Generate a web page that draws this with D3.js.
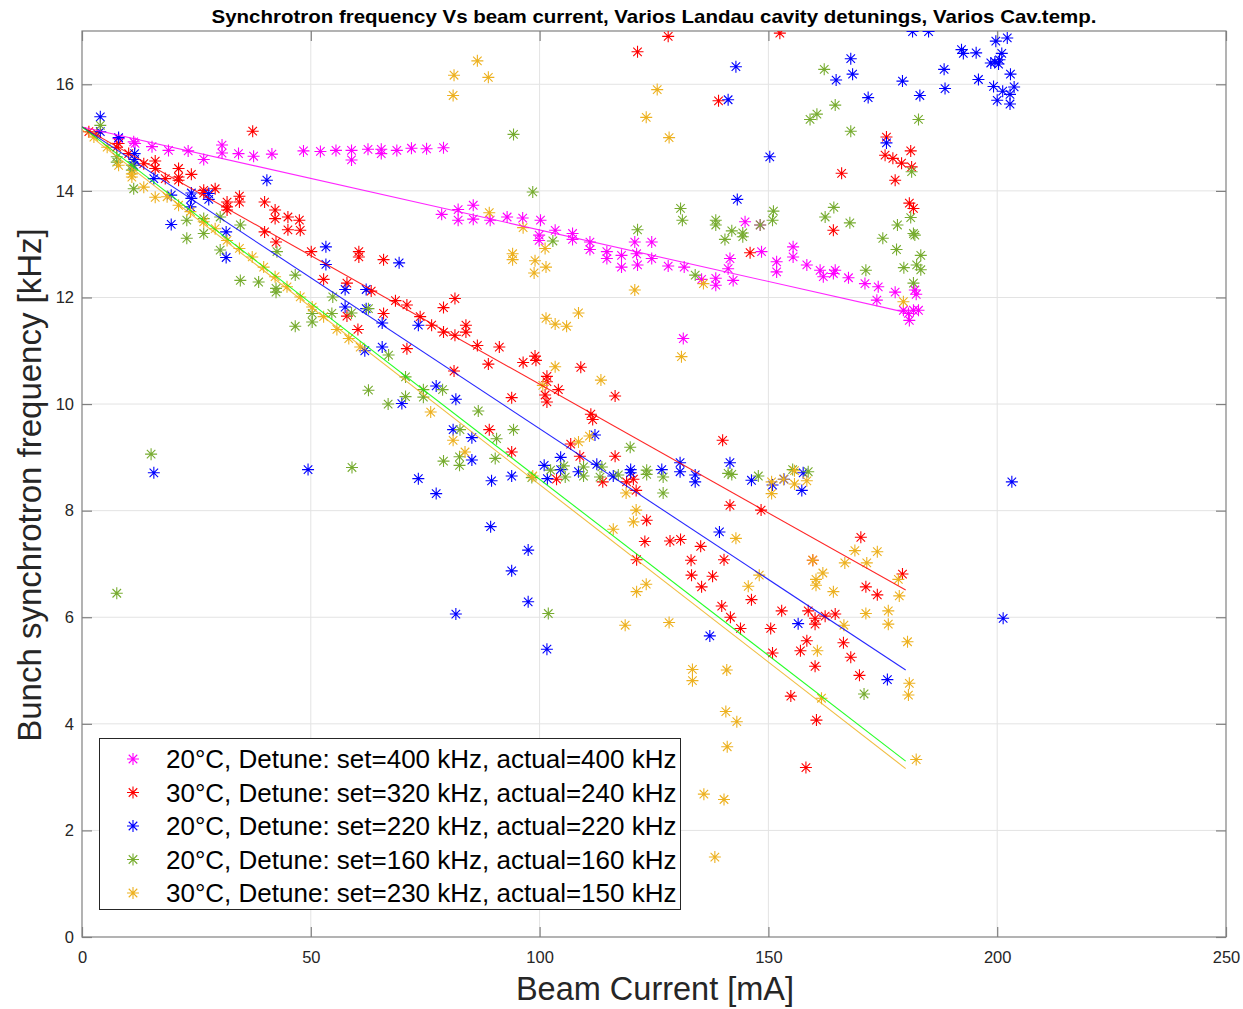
<!DOCTYPE html>
<html><head><meta charset="utf-8">
<script src="https://cdn.jsdelivr.net/npm/d3@7"></script>
<style>body{margin:0;background:#fff;} svg{display:block;font-family:"Liberation Sans",Arial,sans-serif;}</style>
</head><body><svg id="c" width="1243" height="1009"></svg>
<script>
const titleText="Synchrotron frequency Vs beam current, Varios Landau cavity detunings, Varios Cav.temp.";
const xLabel="Beam Current [mA]";
const yLabel="Bunch synchrotron frequency [kHz]";
const xTicks=[0,50,100,150,200,250];
const yTicks=[0,2,4,6,8,10,12,14,16];
const seriesNames=[
 "20°C, Detune: set=400 kHz, actual=400 kHz",
 "30°C, Detune: set=320 kHz, actual=240 kHz",
 "20°C, Detune: set=220 kHz, actual=220 kHz",
 "20°C, Detune: set=160 kHz, actual=160 kHz",
 "30°C, Detune: set=230 kHz, actual=150 kHz"];
const seriesColors=["#ff00ff","#ff0000","#0000ff","#77ac30","#edb120"];
const fitColors=["#ff00ff","#ff0000","#0000ff","#00ff00","#edb120"];
const fitX=[0,180];
const fitStartY=[15.2,15.2,15.2,15.2,15.15];
const fitEndY=[11.72,6.51,5.01,3.30,3.16];

const magenta=[[8.0,14.98],[11.3,14.92],[11.6,14.89],[15.3,14.83],[18.9,14.76],[23.2,14.75],[26.6,14.59],[30.6,14.86],[30.6,14.71],[34.2,14.70],[37.5,14.65],[41.5,14.69],[48.4,14.75],[52.1,14.74],[55.5,14.76],[58.9,14.76],[58.9,14.58],[62.5,14.78],[65.4,14.78],[65.4,14.70],[68.8,14.76],[72.0,14.80],[75.3,14.79],[79.0,14.81],
[78.6,13.56],[82.2,13.65],[82.2,13.45],[85.5,13.73],[85.5,13.47],[89.2,13.45],[92.9,13.51],[96.3,13.49],[100.2,13.45],[99.9,13.17],[99.9,13.07],[103.4,13.26],[107.2,13.20],[107.2,13.09],[111.0,13.04],[111.0,12.90],[114.7,12.86],[114.7,12.73],[117.9,12.79],[117.9,12.57],[120.8,13.04],[121.2,12.82],[121.4,12.61],[124.5,13.04],[124.5,12.73],[128.1,12.59],[131.6,12.57],[131.4,11.23],[135.4,12.34],[138.5,12.36],[138.5,12.23],[141.2,12.54],[141.6,12.73],[142.3,12.32],[144.9,13.42],[148.2,13.36],[148.5,12.86],[151.8,12.67],[151.8,12.48],[155.4,12.95],[155.4,12.76],[158.4,12.61],[161.3,12.51],[162.0,12.39],[164.2,12.45],[164.6,12.51],[167.5,12.37],[171.1,12.26],[174.0,12.20],[173.7,11.95],[177.7,12.10],[182.0,12.14],[182.3,12.06],[179.5,11.76],[180.6,11.70],[181.7,11.76],[182.8,11.76],[180.8,11.57]];

const red=[[1.5,15.11],[3.3,15.08],[8.0,14.89],[7.6,14.82],[10.2,14.70],[13.5,14.51],[16.0,14.56],[16.0,14.42],[21.1,14.42],[21.1,14.26],[21.1,14.20],[23.9,14.31],[18.2,14.23],[26.6,14.01],[26.6,13.96],[29.1,14.04],[31.7,13.79],[31.7,13.70],[31.7,13.64],[34.4,13.90],[34.4,13.79],[37.3,15.12],[39.9,13.79],[42.2,13.64],[42.2,13.48],[45.0,13.51],[45.0,13.27],[47.5,13.45],[47.7,13.26],[39.9,13.23],[42.4,13.04],[50.1,12.86],[60.5,12.86],[60.5,12.76],[65.9,12.71],[52.8,12.34],[57.9,12.27],[63.2,12.12],[68.5,11.94],[71.0,11.86],[65.9,11.70],[57.9,11.65],[60.3,11.40],[71.0,11.04],
[73.9,11.64],[76.4,11.48],[79.0,11.81],[81.5,11.98],[79.0,11.35],[81.5,11.29],[83.9,11.48],[83.9,11.35],[86.4,11.10],[91.2,11.07],[121.4,16.61],[128.1,16.90],[139.1,15.69],
[81.3,10.62],[88.8,10.75],[96.4,10.78],[99.0,10.90],[99.2,10.82],[101.6,10.52],[101.6,10.42],[101.2,10.17],[101.6,10.04],[104.1,10.27],[109.0,10.69],[116.5,10.15],[93.9,10.12],[111.2,9.81],[111.6,9.71],[89.0,9.52],[93.9,9.10],[106.8,9.25],[108.8,9.02],[116.5,9.02],[103.7,8.59],[113.8,8.54],[119.0,8.54],[120.5,8.59],[121.1,8.38],[123.4,7.82],[123.0,7.42],[128.5,7.43],[130.8,7.46],[135.2,7.33],[140.0,9.32],[141.6,8.10],[121.2,7.08],[133.1,7.07],[140.3,7.08],[133.2,6.79],[137.8,6.77],[135.4,6.57],[139.8,6.21],
[148.4,8.01],[146.3,6.33],[141.7,6.00],[143.9,5.79],[150.5,5.79],[152.9,6.12],[158.7,6.12],[160.2,5.98],[160.2,5.87],[162.4,6.02],[164.6,6.06],[159.7,7.07],[170.2,7.50],[179.3,6.81],[171.3,6.57],[173.8,6.42],
[150.9,5.33],[158.4,5.56],[157.0,5.37],[166.4,5.52],[168.0,5.25],[160.2,5.08],[169.9,4.91],[154.9,4.52],[160.5,4.07],[158.2,3.18],
[152.5,16.96],[166.0,14.33],[164.2,13.26],[175.8,15.01],[175.5,14.67],[177.2,14.61],[179.1,14.52],[181.1,14.75],[181.3,14.45],[177.7,14.20],[180.8,13.77],[181.7,13.67],[146.0,12.84]];

const blue=[[4.0,15.39],[4.0,15.11],[8.0,15.00],[11.5,14.70],[11.5,14.59],[11.3,14.48],[15.7,14.23],[19.5,13.92],[23.9,13.96],[23.9,13.86],[27.7,13.95],[27.7,13.84],[23.7,13.70],[40.4,14.20],[19.5,13.37],[31.5,13.23],[31.5,12.75],[53.3,12.95],[53.3,12.62],[57.5,12.15],[62.1,12.15],[57.5,11.82],[62.1,11.79],[65.6,11.52],[65.6,11.07],[61.8,11.00],[69.3,12.65],[73.5,11.48],
[69.9,10.01],[77.4,10.34],[81.7,10.09],[81.1,9.52],[85.2,9.37],[85.2,8.95],[73.5,8.60],[77.4,8.32],[89.5,8.56],[93.9,8.65],[101.0,8.85],[101.7,8.60],[104.6,9.00],[104.6,8.77],[108.5,8.73],[112.1,9.42],[112.5,8.87],[116.1,8.65],[119.9,8.77],[119.9,8.71],[126.7,8.77],[130.7,8.90],[130.7,8.73],[134.0,8.67],[134.0,8.54],[139.3,7.60],[141.6,8.90],[89.3,7.70],[97.5,7.26],[93.9,6.87],[97.5,6.29],[81.7,6.06],
[146.3,8.57],[150.9,8.48],[153.4,8.59],[157.6,8.71],[157.3,8.38],[203.2,8.54],[156.5,5.88],[201.3,5.98],[101.6,5.40],[137.2,5.65],[176.0,4.83],[15.7,8.71],[49.4,8.77],
[142.9,16.33],[141.2,15.71],[150.3,14.64],[143.2,13.84],[168.0,16.48],[168.4,16.19],[164.8,16.08],[171.8,15.75],[179.3,16.06],[183.1,15.79],[181.5,16.99],[185.0,16.99],[188.4,16.28],[188.6,15.92],[192.2,16.65],[192.6,16.58],[195.4,16.59],[195.9,16.09],[199.2,15.96],[198.6,16.40],[199.5,16.42],[200.3,16.38],[200.5,16.46],[201.0,16.58],[199.7,16.81],[202.2,16.87],[202.9,16.19],[203.7,15.95],[202.8,15.81],[202.8,15.63],[200.0,15.70],[201.2,15.87],[175.8,14.90]];

const green=[[4.0,15.23],[7.6,14.64],[7.6,14.54],[10.9,14.48],[10.9,14.39],[11.3,14.04],[22.9,13.45],[22.9,13.11],[26.6,13.48],[26.6,13.20],[30.2,13.51],[30.2,12.89],[34.6,13.36],[34.6,12.32],[38.6,12.29],[42.6,12.86],[42.4,12.17],[42.4,12.10],[46.6,12.42],[46.6,11.46],[50.3,11.70],[50.3,11.54],[54.6,11.70],[54.8,12.01],[58.9,11.71],[62.6,11.79],[67.0,10.92],[70.7,10.51],[62.6,10.26],[70.7,10.14],
[15.1,9.06],[59.0,8.81],[7.6,6.45],[66.9,10.0],
[74.6,10.27],[74.6,10.13],[78.8,10.27],[86.6,9.87],[82.6,9.52],[90.6,9.35],[94.3,9.52],[79.0,8.93],[82.5,9.01],[82.5,8.85],[90.3,8.98],[98.3,8.62],[101.9,6.07],[102.4,8.76],[105.3,8.84],[105.6,8.63],[109.6,8.82],[109.6,8.65],[113.2,8.63],[113.6,8.82],[117.2,8.67],[119.8,9.19],[123.4,8.76],[123.4,8.68],[127.0,8.63],[127.0,8.33],[141.2,8.70],
[142.0,8.68],[147.8,8.65],[155.3,8.77],[158.7,8.73],[170.9,4.56],
[94.3,15.06],[98.5,13.98],[102.9,13.06],[121.4,13.27],[130.8,13.67],[131.2,13.45],[134.0,12.42],[138.5,13.45],[138.5,13.36],[140.5,13.09],
[142.0,13.25],[144.4,13.21],[144.4,13.14],[148.2,13.36],[151.1,13.62],[150.9,13.45],[162.2,16.28],[164.6,15.61],[159.1,15.34],[160.6,15.44],[168.0,15.12],[182.8,15.34],[164.3,13.69],[162.4,13.51],[167.8,13.40],[171.3,12.51],[175.0,13.11],[178.2,13.36],[178.0,12.90],[179.6,12.56],[181.1,13.50],[181.7,13.20],[182.0,13.17],[183.3,12.79],[183.3,12.52],[182.4,12.61],[181.7,12.27],[181.3,14.36]];

const orange=[[2.6,15.01],[5.5,14.82],[8.0,14.48],[10.9,14.32],[10.9,14.26],[13.5,14.07],[16.0,13.88],[18.6,13.89],[21.1,13.73],[23.7,13.61],[26.6,13.42],[29.1,13.29],[31.7,13.07],[34.4,12.92],[37.2,12.76],[39.7,12.57],[42.2,12.39],[44.8,12.20],[47.7,12.01],[50.3,11.82],[52.8,11.64],[55.7,11.40],[58.3,11.23],[60.8,11.07],
[76.2,9.85],[81.1,9.32],[83.7,9.10],[103.4,10.70],[113.4,10.45],[100.7,10.35],[110.9,9.40],[108.5,9.29],[98.5,8.65],[116.1,7.65],[118.9,8.33],[121.1,8.01],[120.5,7.79],[121.2,6.48],[123.3,6.62],[118.7,5.85],[128.3,5.90],[131.0,10.89],
[81.3,16.17],[81.1,15.79],[86.4,16.44],[88.8,16.13],[94.1,12.82],[94.1,12.71],[99.0,12.69],[98.8,12.46],[101.4,12.57],[101.2,12.92],[89.0,13.59],[96.4,13.31],[101.4,11.61],[103.4,11.50],[105.9,11.46],[108.5,11.71],[120.8,12.14],[125.7,15.90],[123.3,15.38],[128.3,15.00],[135.8,12.26],[179.5,11.92],
[142.9,7.48],[150.7,8.54],[150.7,8.32],[153.3,8.59],[155.7,8.75],[155.7,8.50],[158.4,8.56],[148.0,6.79],[145.6,6.58],[160.4,6.71],[160.4,6.60],[161.9,6.83],[164.2,6.48],[166.5,5.85],[166.7,7.02],[168.9,7.25],[171.5,7.02],[173.8,7.23],[178.4,6.71],[178.6,6.40],[171.3,6.07],[176.2,6.12],[176.2,5.87],[159.7,7.07],
[133.4,5.02],[133.4,4.81],[140.9,5.01],[140.7,4.23],[143.1,4.04],[141.0,3.57],[135.9,2.68],[140.3,2.58],[138.3,1.50],[180.4,5.54],[180.8,4.76],[180.6,4.54],[160.7,5.37],[161.6,4.48],[182.3,3.33]];

const seriesData=[magenta,red,blue,green,orange];

const W=1243,H=1009;
const m={left:82,top:31,right:1226,bottom:937};
const x=d3.scaleLinear().domain([0,250]).range([m.left,m.right]);
const y=d3.scaleLinear().domain([0,17]).range([m.bottom,m.top]);
const svg=d3.select("#c");
const axisColor="#262626";

svg.append("defs").append("clipPath").attr("id","clip").append("rect")
 .attr("x",m.left).attr("y",m.top).attr("width",m.right-m.left).attr("height",m.bottom-m.top);

// grid
const g=svg.append("g");
g.selectAll(".gx").data(xTicks.slice(1,-1)).join("line")
 .attr("x1",d=>x(d)).attr("x2",d=>x(d)).attr("y1",m.top).attr("y2",m.bottom)
 .attr("stroke","#e3e3e3").attr("stroke-width",1);
g.selectAll(".gy").data(yTicks.slice(1)).join("line")
 .attr("y1",d=>y(d)).attr("y2",d=>y(d)).attr("x1",m.left).attr("x2",m.right)
 .attr("stroke","#e3e3e3").attr("stroke-width",1);

// axes via d3
const tickLen=10;
const xAxis=svg.append("g").attr("transform",`translate(0,${m.bottom})`)
 .call(d3.axisBottom(x).tickValues(xTicks).tickSize(-tickLen).tickPadding(14).tickFormat(d3.format("d")));
const yAxis=svg.append("g").attr("transform",`translate(${m.left},0)`)
 .call(d3.axisLeft(y).tickValues(yTicks).tickSize(-tickLen).tickPadding(8).tickFormat(d3.format("d")));
const xAxisTop=svg.append("g").attr("transform",`translate(0,${m.top})`)
 .call(d3.axisTop(x).tickValues(xTicks).tickSize(-tickLen).tickFormat(""));
const yAxisRight=svg.append("g").attr("transform",`translate(${m.right},0)`)
 .call(d3.axisRight(y).tickValues(yTicks).tickSize(-tickLen).tickFormat(""));
[xAxis,yAxis,xAxisTop,yAxisRight].forEach(a=>{
 a.select(".domain").remove();
 a.selectAll(".tick line").attr("stroke","#808080").attr("stroke-width",1.2);
 a.selectAll("text").attr("fill",axisColor).attr("font-size",16.5)
  .attr("font-family","'Liberation Sans',Arial,sans-serif");
});
svg.append("rect").attr("x",m.left).attr("y",m.top).attr("width",m.right-m.left).attr("height",m.bottom-m.top)
 .attr("fill","none").attr("stroke","#808080").attr("stroke-width",1.2);

// markers
const r=6,k=r*0.71;
const star=`M${-r},0H${r}M0,${-r}V${r}M${-k},${-k}L${k},${k}M${-k},${k}L${k},${-k}`;
const plot=svg.append("g").attr("clip-path","url(#clip)");
seriesData.forEach((arr,i)=>{
 plot.append("g").selectAll("path").data(arr).join("path")
  .attr("d",star).attr("transform",d=>`translate(${x(d[0])},${y(d[1])})`)
  .attr("fill","none").attr("stroke",seriesColors[i]).attr("stroke-width",1.1);
});
// fit lines
const line=d3.line().x(d=>x(d[0])).y(d=>y(d[1]));
fitStartY.forEach((s,i)=>{
 plot.append("path").datum([[fitX[0],s],[fitX[1],fitEndY[i]]]).attr("d",line)
  .attr("fill","none").attr("stroke",fitColors[i]).attr("stroke-width",1.1).attr("stroke-opacity",0.85);
});

// title
svg.append("text").attr("x",654).attr("y",23).attr("text-anchor","middle")
 .attr("font-weight","bold").attr("font-size",19).attr("fill","#000")
 .attr("textLength",885).attr("lengthAdjust","spacingAndGlyphs").text(titleText);
// axis labels
svg.append("text").attr("x",655).attr("y",1000).attr("text-anchor","middle")
 .attr("font-size",32.5).attr("fill",axisColor).text(xLabel);
svg.append("text").attr("transform","translate(41,485) rotate(-90)").attr("text-anchor","middle")
 .attr("font-size",33).attr("fill",axisColor).text(yLabel);

// legend
const lg=svg.append("g");
lg.append("rect").attr("x",99.5).attr("y",738.5).attr("width",581).attr("height",171)
 .attr("fill","#fff").attr("stroke",axisColor).attr("stroke-width",1);
seriesNames.forEach((n,i)=>{
 const cy=759+i*33.5;
 lg.append("path").attr("d",star).attr("transform",`translate(133,${cy})`)
  .attr("fill","none").attr("stroke",seriesColors[i]).attr("stroke-width",1.1);
 lg.append("text").attr("x",166).attr("y",cy+9).attr("font-size",26).attr("fill","#000").text(n);
});
</script></body></html>
